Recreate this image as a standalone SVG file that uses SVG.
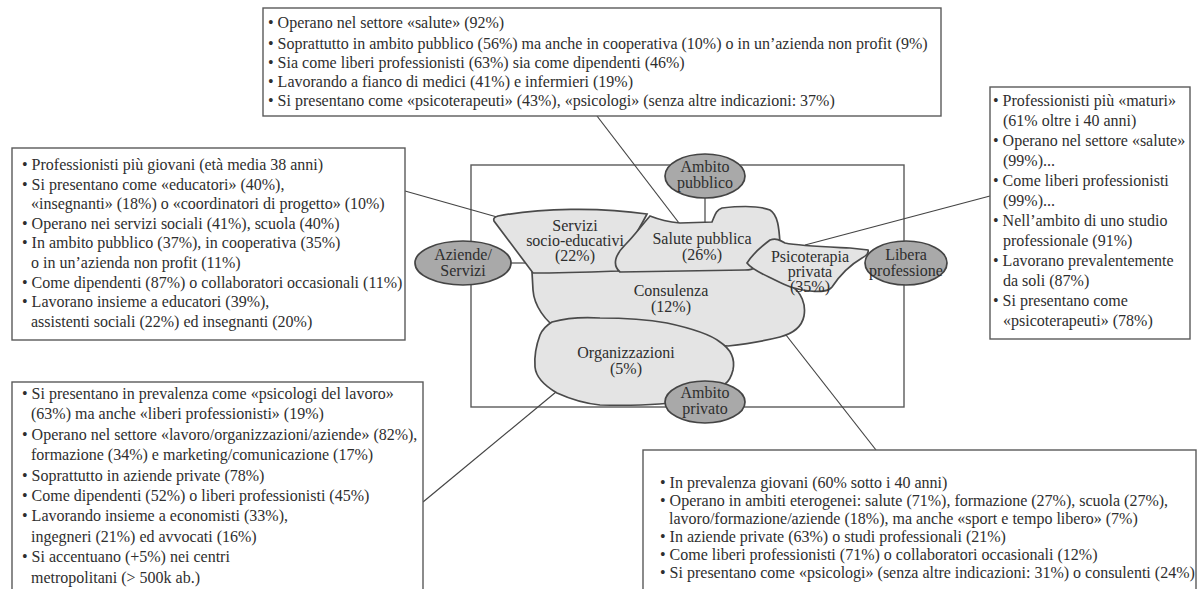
<svg xmlns="http://www.w3.org/2000/svg" width="1199" height="589" viewBox="0 0 1199 589">
<style>
text{font-family:"Liberation Serif","Times New Roman",serif;font-size:16px;fill:#2e2e2e}
.box{fill:#fff;stroke:#5a5a5a;stroke-width:1.4}
.frame{fill:none;stroke:#5a5a5a;stroke-width:1.4}
.shape{fill:#e4e4e4;stroke:#4a4a4a;stroke-width:1.7}
.ell{fill:#a9a9a9;stroke:#444;stroke-width:1.7}
.c{stroke:#444;stroke-width:1.2;fill:none}
.m{text-anchor:middle}
</style>
<rect x="0" y="0" width="1199" height="589" fill="#fff"/>
<rect id="frame" class="frame" x="471" y="165" width="433" height="242"/>
<g id="connectors">
<line class="c" x1="597" y1="116" x2="679" y2="223"/>
<line class="c" x1="405" y1="191" x2="497" y2="217"/>
<line class="c" x1="990" y1="196" x2="805" y2="245"/>
<line class="c" x1="556" y1="392" x2="423" y2="502"/>
<line class="c" x1="786" y1="335" x2="876" y2="450"/>
<line class="c" x1="705" y1="198" x2="705" y2="222"/>
<line class="c" x1="511" y1="263" x2="527" y2="263"/>
</g>
<g id="consulenza">
<path class="shape" d="M532,272 C600,270 700,270 760,268 L790,285 C802,292 806,305 804,316 C802,326 795,333 780,337 C760,342 745,344 728,346 L560,330 C545,322 534,305 533,290 Z"/>
<text class="m" x="671" y="296">Consulenza</text>
<text class="m" x="671" y="312">(12%)</text>
</g>
<g id="organizzazioni">
<path class="shape" d="M552,322 C570,317 585,317 600,318 C630,318 650,320 667,323 C690,328 710,334 720,342 C732,350 735,360 733,370 C731,378 728,382 725,384 L690,400 C670,404 640,406 600,405 C580,403 568,398 557,393 C545,386 536,378 535,367 C534,355 537,343 540,335 C543,328 547,325 552,322 Z"/>
<text class="m" x="626" y="358">Organizzazioni</text>
<text class="m" x="626" y="374">(5%)</text>
</g>
<g id="servizi">
<path class="shape" d="M498,216 C540,208 600,207 647,214 C639,230 625,250 618,271 C590,272 560,273 533,273 L494,221 C493,218 495,217 498,216 Z"/>
<text class="m" x="575" y="231">Servizi</text>
<text class="m" x="575" y="246">socio-educativi</text>
<text class="m" x="575" y="261">(22%)</text>
</g>
<g id="salute">
<path class="shape" d="M650,216 C660,220 670,222 680,223 L712,222 C715,215 716,210 722,208 C740,206 760,206 770,210 C778,215 779,228 780,243 L760,265 C752,270 749,270 745,270 L620,272 C612,265 615,255 625,245 C635,235 642,225 650,216 Z"/>
<text class="m" x="702" y="244">Salute pubblica</text>
<text class="m" x="702" y="260">(26%)</text>
</g>
<g id="psicoterapia">
<path class="shape" d="M747,263 C752,255 762,246 770,240 C776,238 780,240 785,243 C800,246 830,247 850,248 L868,250 C869,253 866,256 862,258 C850,265 840,275 832,287 C828,292 820,292 810,291 C795,290 785,285 775,280 C765,275 752,270 747,263 Z"/>
<text class="m" x="810" y="262">Psicoterapia</text>
<text class="m" x="810" y="277">privata</text>
<text class="m" x="810" y="292">(35%)</text>
</g>
<g id="ambito-pubblico">
<ellipse class="ell" cx="705" cy="176" rx="40" ry="22"/>
<text class="m" x="705" y="172">Ambito</text>
<text class="m" x="705" y="188">pubblico</text>
</g>
<g id="aziende-servizi">
<ellipse class="ell" cx="463" cy="263" rx="48" ry="22"/>
<text class="m" x="463" y="260">Aziende/</text>
<text class="m" x="463" y="276">Servizi</text>
</g>
<g id="libera-professione">
<ellipse class="ell" cx="906" cy="263" rx="41" ry="22"/>
<text class="m" x="906" y="260">Libera</text>
<text class="m" x="906" y="276">professione</text>
</g>
<g id="ambito-privato">
<ellipse class="ell" cx="705" cy="402" rx="40" ry="21"/>
<text class="m" x="705" y="398">Ambito</text>
<text class="m" x="705" y="414">privato</text>
</g>
<g id="box-top">
<rect class="box" x="263" y="8" width="678" height="108"/>
<text x="268" y="28">• Operano nel settore «salute» (92%)</text>
<text x="268" y="49">• Soprattutto in ambito pubblico (56%) ma anche in cooperativa (10%) o in un’azienda non profit (9%)</text>
<text x="268" y="68">• Sia come liberi professionisti (63%) sia come dipendenti (46%)</text>
<text x="268" y="87">• Lavorando a fianco di medici (41%) e infermieri (19%)</text>
<text x="268" y="106">• Si presentano come «psicoterapeuti» (43%), «psicologi» (senza altre indicazioni: 37%)</text>
</g>
<g id="box-left">
<rect class="box" x="12" y="148" width="393" height="192"/>
<text x="22" y="170">• Professionisti più giovani (età media 38 anni)</text>
<text x="22" y="190">• Si presentano come «educatori» (40%),</text>
<text x="31" y="209">«insegnanti» (18%) o «coordinatori di progetto» (10%)</text>
<text x="22" y="229">• Operano nei servizi sociali (41%), scuola (40%)</text>
<text x="22" y="248">• In ambito pubblico (37%), in cooperativa (35%)</text>
<text x="31" y="268">o in un’azienda non profit (11%)</text>
<text x="22" y="288">• Come dipendenti (87%) o collaboratori occasionali (11%)</text>
<text x="22" y="307">• Lavorano insieme a educatori (39%),</text>
<text x="31" y="327">assistenti sociali (22%) ed insegnanti (20%)</text>
</g>
<g id="box-right">
<rect class="box" x="990" y="87" width="200" height="252"/>
<text x="993" y="106">• Professionisti più «maturi»</text>
<text x="1003" y="126">(61% oltre i 40 anni)</text>
<text x="993" y="146">• Operano nel settore «salute»</text>
<text x="1003" y="166">(99%)...</text>
<text x="993" y="186">• Come liberi professionisti</text>
<text x="1003" y="206">(99%)...</text>
<text x="993" y="226">• Nell’ambito di uno studio</text>
<text x="1003" y="246">professionale (91%)</text>
<text x="993" y="266">• Lavorano prevalentemente</text>
<text x="1003" y="286">da soli (87%)</text>
<text x="993" y="306">• Si presentano come</text>
<text x="1003" y="326">«psicoterapeuti» (78%)</text>
</g>
<g id="box-bottom-left">
<rect class="box" x="12" y="382" width="411" height="220"/>
<text x="22" y="399">• Si presentano in prevalenza come «psicologi del lavoro»</text>
<text x="31" y="419">(63%) ma anche «liberi professionisti» (19%)</text>
<text x="22" y="440">• Operano nel settore «lavoro/organizzazioni/aziende» (82%),</text>
<text x="31" y="460">formazione (34%) e marketing/comunicazione (17%)</text>
<text x="22" y="481">• Soprattutto in aziende private (78%)</text>
<text x="22" y="501">• Come dipendenti (52%) o liberi professionisti (45%)</text>
<text x="22" y="521">• Lavorando insieme a economisti (33%),</text>
<text x="31" y="542">ingegneri (21%) ed avvocati (16%)</text>
<text x="22" y="562">• Si accentuano (+5%) nei centri</text>
<text x="31" y="583">metropolitani (&gt; 500k ab.)</text>
</g>
<g id="box-bottom-right">
<rect class="box" x="643" y="450" width="553" height="150"/>
<text x="660" y="488">• In prevalenza giovani (60% sotto i 40 anni)</text>
<text x="660" y="506">• Operano in ambiti eterogenei: salute (71%), formazione (27%), scuola (27%),</text>
<text x="669" y="524">lavoro/formazione/aziende (18%), ma anche «sport e tempo libero» (7%)</text>
<text x="660" y="542">• In aziende private (63%) o studi professionali (21%)</text>
<text x="660" y="560">• Come liberi professionisti (71%) o collaboratori occasionali (12%)</text>
<text x="660" y="578">• Si presentano come «psicologi» (senza altre indicazioni: 31%) o consulenti (24%)</text>
</g>
</svg>
